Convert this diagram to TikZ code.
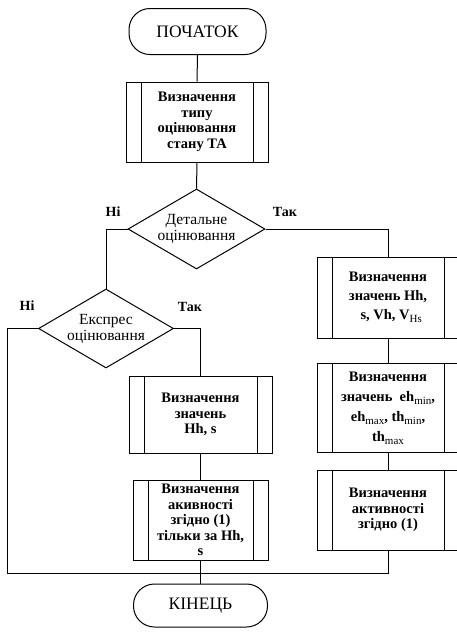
\documentclass[tikz,border=0pt]{standalone}
\usepackage{fontspec}
\setmainfont{Liberation Serif}
\usetikzlibrary{shapes.geometric}
\newcommand\lsub[1]{\raisebox{-0.45ex}{\mdseries\fontsize{11}{11}\selectfont #1}}
\begin{document}
\begin{tikzpicture}[x=1pt,y=-1pt,
  line width=1pt,
  proc/.style={draw, rectangle, minimum width=142pt, minimum height=80pt, inner sep=0.5pt, align=center,
    font=\bfseries\fontsize{14.5}{15.5}\selectfont,
    path picture={\draw[line width=1pt] ([xshift=15pt]path picture bounding box.north west) -- ([xshift=15pt]path picture bounding box.south west)
      ([xshift=-15pt]path picture bounding box.north east) -- ([xshift=-15pt]path picture bounding box.south east);}},
  dec/.style={draw, diamond, aspect=1.71, minimum width=137pt, minimum height=80pt, inner sep=0pt, align=center,
    font=\fontsize{15.5}{16}\selectfont},
  term/.style={draw, rectangle, rounded corners=21pt, minimum width=137pt, minimum height=46pt, inner sep=0pt,
    font=\fontsize{17.5}{19}\selectfont},
  lbl/.style={font=\bfseries\fontsize{14}{15}\selectfont, inner sep=0pt}
]
\useasboundingbox (0,0) rectangle (457,633);
\clip (0,0) rectangle (457,633);

\node[term] (start) at (197.5,31.5) {ПОЧАТОК};
\node[proc] (p1) at (197,122) {Визначення\\типу\\оцінювання\\стану ТА};
\node[dec] (d1) at (196.5,229) {Детальне\\оцінювання};
\node[dec, minimum width=135pt, minimum height=79pt] (d2) at (106,328.5) {Експрес\\оцінювання};

\node[proc, minimum height=81pt, align=left, font=\bfseries\fontsize{14.5}{19}\selectfont] (r1) at (388,297.5) {Визначення\\значень Hh,\\\hspace*{0.8em}s, Vh, V\lsub{Hs}};
\node[proc, minimum height=89pt, font=\bfseries\fontsize{14.5}{20}\selectfont] (r2) at (388,408) {Визначення\\значень \ eh\lsub{min},\\eh\lsub{max}, th\lsub{min},\\th\lsub{max}};
\node[proc] (r3) at (388,510) {Визначення\\активності\\згідно (1)};

\node[proc, minimum width=143pt, minimum height=77pt] (l1) at (200.5,414.5) {Визначення\\значень\\Hh, s};
\node[proc, minimum width=135pt] (l2) at (200.5,520) {Визначення\\акивності\\згідно (1)\\тільки за Hh,\\s};

\node[term, minimum width=134pt, minimum height=43pt] (end) at (200.5,605.5) {КІНЕЦЬ};

\node[lbl] (n1) at (113,212) {Ні};
\node[lbl] (t1) at (285,212) {Так};
\node[lbl] (n2) at (27,306) {Ні};
\node[lbl] (t2) at (190,307) {Так};

\coordinate (jn) at (200.5,573);
\coordinate (lb) at (7,573);

\draw (start.south) -- (p1.north);
\draw (p1.south) -- (d1.north);
\draw (d1.west) -| (d2.north);
\draw (d1.east) -| (r1.north);
\draw (r1.south) -- (r2.north);
\draw (r2.south) -- (r3.north);
\draw (d2.east) -| (l1.north);
\draw (l1.south) -- (l2.north);
\draw (l2.south) -- (end.north);
\draw (d2.west) -| (lb) -- (jn);
\draw (r3.south) |- (jn);
\end{tikzpicture}
\end{document}
